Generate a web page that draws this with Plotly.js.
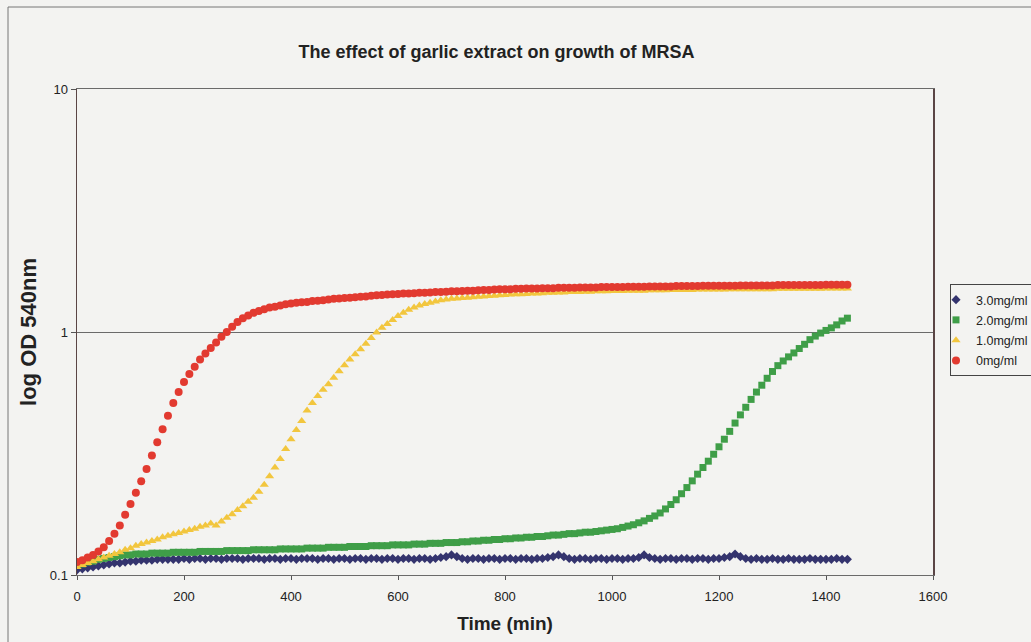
<!DOCTYPE html>
<html>
<head>
<meta charset="utf-8">
<script src="https://cdn.plot.ly/plotly-3.0.1.min.js"></script>
<style>
html,body{margin:0;padding:0;background:#f3f3f1;overflow:hidden;}
#chart{width:1031px;height:642px;}
</style>
</head>
<body>
<div id="chart"></div>
<script>
// Time points (min)
var timeMin = [
0,10,20,30,40,50,60,70,80,90,
100,110,120,130,140,150,160,170,180,190,
200,210,220,230,240,250,260,270,280,290,
300,310,320,330,340,350,360,370,380,390,
400,410,420,430,440,450,460,470,480,490,
500,510,520,530,540,550,560,570,580,590,
600,610,620,630,640,650,660,670,680,690,
700,710,720,730,740,750,760,770,780,790,
800,810,820,830,840,850,860,870,880,890,
900,910,920,930,940,950,960,970,980,990,
1000,1010,1020,1030,1040,1050,1060,1070,1080,1090,
1100,1110,1120,1130,1140,1150,1160,1170,1180,1190,
1200,1210,1220,1230,1240,1250,1260,1270,1280,1290,
1300,1310,1320,1330,1340,1350,1360,1370,1380,1390,
1400,1410,1420,1430,1440];

// OD 540nm, 3.0 mg/ml garlic extract
var od3_0 = [
0.105,0.106,0.107,0.108,0.109,0.110,0.111,0.112,0.112,0.113,
0.114,0.114,0.115,0.115,0.115,0.116,0.116,0.116,0.116,0.116,
0.117,0.116,0.117,0.117,0.116,0.117,0.117,0.116,0.117,0.117,
0.117,0.116,0.117,0.117,0.117,0.116,0.117,0.117,0.116,0.117,
0.117,0.116,0.117,0.117,0.117,0.116,0.117,0.117,0.116,0.117,
0.117,0.116,0.117,0.117,0.116,0.117,0.117,0.116,0.117,0.117,
0.116,0.117,0.117,0.116,0.117,0.117,0.116,0.117,0.118,0.119,
0.121,0.119,0.117,0.116,0.117,0.117,0.116,0.117,0.117,0.116,
0.117,0.117,0.116,0.117,0.117,0.116,0.117,0.117,0.118,0.119,
0.121,0.119,0.117,0.116,0.117,0.117,0.116,0.117,0.117,0.116,
0.117,0.117,0.116,0.117,0.117,0.118,0.121,0.118,0.117,0.116,
0.117,0.117,0.116,0.117,0.117,0.116,0.117,0.117,0.116,0.117,
0.117,0.118,0.119,0.122,0.119,0.117,0.116,0.117,0.116,0.116,
0.117,0.116,0.116,0.117,0.116,0.116,0.116,0.117,0.116,0.116,
0.116,0.116,0.117,0.116,0.116];

// OD 540nm, 2.0 mg/ml garlic extract
var od2_0 = [
0.110,0.111,0.113,0.114,0.116,0.117,0.118,0.119,0.120,0.121,
0.121,0.122,0.122,0.122,0.123,0.123,0.123,0.123,0.124,0.124,
0.124,0.124,0.124,0.125,0.125,0.125,0.125,0.125,0.126,0.126,
0.126,0.126,0.126,0.127,0.127,0.127,0.127,0.127,0.128,0.128,
0.128,0.128,0.128,0.129,0.129,0.129,0.129,0.130,0.130,0.130,
0.130,0.131,0.131,0.131,0.131,0.132,0.132,0.132,0.132,0.133,
0.133,0.133,0.133,0.134,0.134,0.134,0.135,0.135,0.135,0.136,
0.136,0.136,0.137,0.137,0.138,0.138,0.139,0.139,0.140,0.140,
0.141,0.141,0.142,0.142,0.143,0.143,0.144,0.144,0.145,0.146,
0.146,0.147,0.148,0.148,0.149,0.150,0.150,0.151,0.152,0.153,
0.154,0.155,0.157,0.159,0.161,0.164,0.167,0.171,0.175,0.180,
0.187,0.195,0.204,0.216,0.229,0.244,0.260,0.277,0.294,0.314,
0.337,0.362,0.390,0.422,0.456,0.490,0.528,0.566,0.604,0.645,
0.688,0.727,0.760,0.790,0.820,0.855,0.890,0.930,0.962,0.990,
1.015,1.040,1.070,1.110,1.140];

// OD 540nm, 1.0 mg/ml garlic extract
var od1_0 = [
0.108,0.110,0.112,0.114,0.116,0.118,0.120,0.122,0.124,0.127,
0.129,0.132,0.134,0.136,0.138,0.140,0.143,0.145,0.147,0.149,
0.151,0.153,0.155,0.158,0.160,0.163,0.160,0.166,0.172,0.178,
0.185,0.192,0.200,0.208,0.220,0.235,0.255,0.277,0.300,0.330,
0.362,0.395,0.430,0.475,0.510,0.545,0.578,0.610,0.648,0.690,
0.730,0.770,0.810,0.850,0.895,0.945,0.995,1.040,1.080,1.120,
1.165,1.200,1.235,1.260,1.285,1.305,1.320,1.335,1.350,1.360,
1.370,1.375,1.380,1.385,1.390,1.395,1.400,1.405,1.410,1.415,
1.420,1.425,1.430,1.430,1.435,1.440,1.440,1.445,1.450,1.450,
1.455,1.455,1.460,1.460,1.460,1.465,1.465,1.470,1.470,1.470,
1.475,1.475,1.475,1.480,1.480,1.480,1.480,1.485,1.485,1.485,
1.485,1.490,1.490,1.490,1.490,1.490,1.495,1.495,1.495,1.495,
1.495,1.495,1.500,1.500,1.500,1.500,1.500,1.500,1.500,1.500,
1.500,1.505,1.505,1.505,1.505,1.505,1.505,1.505,1.505,1.505,
1.510,1.510,1.510,1.510,1.510];

// OD 540nm, 0 mg/ml (control)
var od0_0 = [
0.113,0.115,0.118,0.121,0.125,0.130,0.138,0.148,0.160,0.177,
0.196,0.218,0.243,0.273,0.310,0.352,0.398,0.452,0.510,0.567,
0.622,0.672,0.720,0.770,0.815,0.860,0.905,0.955,1.000,1.050,
1.100,1.140,1.170,1.200,1.220,1.240,1.260,1.270,1.285,1.300,
1.310,1.320,1.325,1.330,1.340,1.345,1.350,1.360,1.370,1.375,
1.380,1.385,1.390,1.395,1.400,1.410,1.415,1.420,1.425,1.430,
1.435,1.440,1.440,1.445,1.450,1.450,1.455,1.460,1.460,1.465,
1.470,1.470,1.475,1.480,1.480,1.485,1.490,1.490,1.495,1.500,
1.500,1.500,1.505,1.505,1.510,1.510,1.510,1.515,1.515,1.515,
1.520,1.520,1.520,1.520,1.525,1.525,1.525,1.525,1.530,1.530,
1.530,1.530,1.530,1.535,1.535,1.535,1.535,1.540,1.540,1.540,
1.540,1.540,1.545,1.545,1.545,1.545,1.545,1.550,1.550,1.550,
1.550,1.550,1.550,1.550,1.555,1.555,1.555,1.555,1.555,1.555,
1.555,1.560,1.560,1.560,1.560,1.560,1.560,1.560,1.560,1.560,
1.565,1.565,1.565,1.565,1.565];

var seriesNames = ['3.0mg/ml', '2.0mg/ml', '1.0mg/ml', '0mg/ml'];
var yTickVals = [0.1, 1, 10];
var yTickText = ['0.1', '1', '10'];
var xTickVals = [0, 200, 400, 600, 800, 1000, 1200, 1400, 1600];

var seriesData = [od3_0, od2_0, od1_0, od0_0];
var colors = ['#34346e', '#3f9e48', '#f2c63e', '#e23a30'];
var symbols = ['diamond', 'square', 'triangle-up', 'circle'];
var sizes = [7, 7, 8, 8];

var traces = seriesData.map(function (ys, i) {
  return {
    x: timeMin,
    y: ys,
    name: seriesNames[i],
    type: 'scatter',
    mode: 'markers',
    legendgroup: 'g' + i,
    marker: {symbol: symbols[i], color: colors[i], size: sizes[i], line: {width: 0}}
  };
});

var bg = '#f3f3f1';
var layout = {
  width: 1031,
  height: 642,
  paper_bgcolor: bg,
  plot_bgcolor: bg,
  margin: {l: 77, r: 98, t: 89, b: 67, autoexpand: false},
  font: {family: 'Liberation Sans, Arial, sans-serif', color: '#222', size: 13},
  title: {
    text: '<b>The effect of garlic extract on growth of MRSA</b>',
    font: {size: 18, color: '#222'},
    xref: 'paper', x: 0.49, xanchor: 'center',
    yref: 'container', y: 1 - 52 / 642, yanchor: 'middle'
  },
  xaxis: {
    range: [0, 1600],
    tickvals: xTickVals,
    ticks: 'outside', ticklen: 4, tickcolor: '#555',
    ticklabelstandoff: 5,
    showgrid: false, zeroline: false,
    showline: true, linecolor: '#6a6a6a', linewidth: 1, mirror: true,
    tickfont: {size: 13, color: '#222'},
    automargin: false,
    title: {text: '<b>Time (min)</b>', font: {size: 19, color: '#222'}, standoff: 14}
  },
  yaxis: {
    type: 'log',
    range: [-1, 1],
    tickvals: yTickVals,
    ticktext: yTickText,
    ticks: 'outside', ticklen: 5, tickcolor: '#555',
    showgrid: true, gridcolor: '#6a6a6a', gridwidth: 1,
    zeroline: false,
    showline: true, linecolor: '#5a4545', linewidth: 1.5, mirror: true,
    tickfont: {size: 13, color: '#222'},
    automargin: false,
    title: {text: '<b>log OD 540nm</b>', font: {size: 22, color: '#222'}, standoff: 7}
  },
  showlegend: true,
  legend: {
    x: (950 - 77) / 856, xanchor: 'left',
    y: (575 - 284) / 486, yanchor: 'top',
    bgcolor: bg, bordercolor: '#444', borderwidth: 1,
    font: {size: 12.5, color: '#222'},
    traceorder: 'grouped', tracegroupgap: 1,
    itemwidth: 30, indentation: -15
  },
  shapes: [{
    type: 'rect', xref: 'paper', yref: 'paper',
    x0: (8 - 77) / 856, x1: 1.2, y0: -0.3, y1: (575 - 7) / 486,
    line: {color: '#777', width: 1}, fillcolor: 'rgba(0,0,0,0)', layer: 'below'
  }]
};

Plotly.newPlot('chart', traces, layout, {displayModeBar: false, staticPlot: true});
</script>
</body>
</html>
